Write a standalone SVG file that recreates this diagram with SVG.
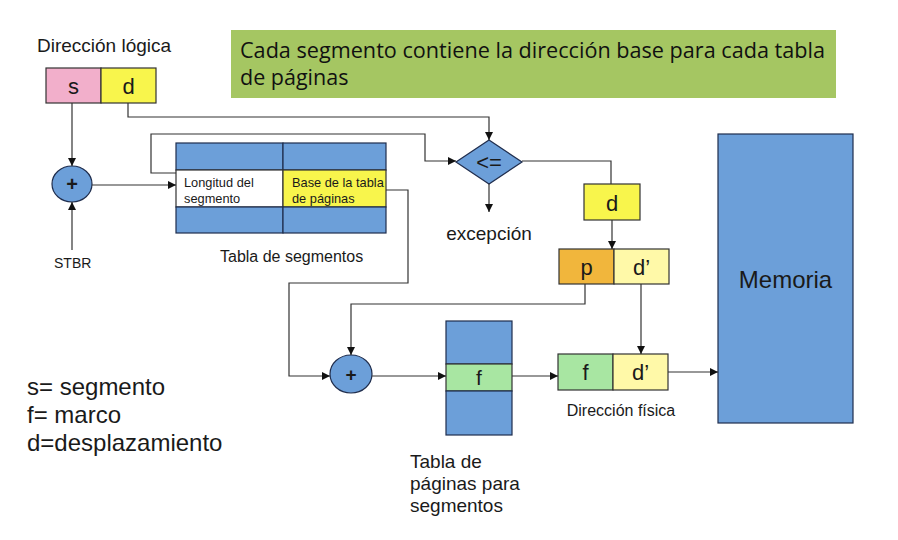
<svg xmlns="http://www.w3.org/2000/svg" width="898" height="540" viewBox="0 0 898 540">
<defs>
<marker id="arr" viewBox="0 0 10 10" refX="10" refY="5" markerWidth="8" markerHeight="8" markerUnits="userSpaceOnUse" orient="auto">
<path d="M0,0 L10,5 L0,10 z" fill="#111"/>
</marker>
<style>
.t{font-family:"Liberation Sans",Arial,sans-serif;fill:#1a1a1a}
.box{stroke:#333;stroke-width:1.2}
.blue{fill:#6C9FD9;stroke:#1F2D4D;stroke-width:1.2}
.ln{fill:none;stroke:#333;stroke-width:1.2}
.la{fill:none;stroke:#333;stroke-width:1.2;marker-end:url(#arr)}
.bn{font-family:"Open Sans","Noto Sans",sans-serif;font-size:21.5px;fill:#111}
</style>
</defs>
<rect width="898" height="540" fill="#ffffff"/>

<g id="banner">
<rect x="231" y="30" width="605" height="68" fill="#A5C662"/>
<text class="bn" x="240" y="58" textLength="585" lengthAdjust="spacingAndGlyphs">Cada segmento contiene la dirección base para cada tabla</text>
<text class="bn" x="240" y="85">de páginas</text>
</g>

<g id="logical-address">
<text class="t" x="37" y="52" font-size="19">Dirección lógica</text>
<rect class="box" x="46" y="68" width="55" height="35" fill="#F2AFCB"/>
<rect class="box" x="101" y="68" width="55" height="35" fill="#F8F54C"/>
<text class="t" x="73.5" y="94" font-size="22" text-anchor="middle">s</text>
<text class="t" x="128.5" y="94" font-size="22" text-anchor="middle">d</text>
</g>

<g id="adder1">
<ellipse cx="72" cy="184" rx="20" ry="18" class="blue"/>
<text class="t" x="72" y="191" font-size="20" text-anchor="middle" font-weight="bold">+</text>
</g>
<g id="stbr"><text class="t" x="54" y="268" font-size="14">STBR</text></g>

<g id="segment-table">
<rect class="blue" x="176" y="143" width="107" height="27"/>
<rect class="blue" x="283" y="143" width="103" height="27"/>
<rect class="box" x="176" y="170" width="107" height="37" fill="#ffffff"/>
<rect class="box" x="283" y="170" width="103" height="37" fill="#F8F54C"/>
<rect class="blue" x="176" y="207" width="107" height="26"/>
<rect class="blue" x="283" y="207" width="103" height="26"/>
<text class="t" x="184" y="187" font-size="12.8">Longitud del</text>
<text class="t" x="184" y="203" font-size="12.8">segmento</text>
<text class="t" x="292" y="187" font-size="12.8">Base de la tabla</text>
<text class="t" x="292" y="203" font-size="12.8">de páginas</text>
<text class="t" x="220" y="262" font-size="16">Tabla de segmentos</text>
</g>

<g id="compare">
<polygon class="blue" points="489,140 522,162 489,184 456,162"/>
<text class="t" x="489" y="170" font-size="22" text-anchor="middle">&lt;=</text>
<text class="t" x="489" y="240" font-size="19" text-anchor="middle">excepción</text>
</g>

<g id="offset-d">
<rect class="box" x="584" y="184" width="56" height="36" fill="#F8F54C"/>
<text class="t" x="612" y="211" font-size="22" text-anchor="middle">d</text>
</g>

<g id="pd">
<rect class="box" x="559" y="249" width="55" height="35" fill="#F1B63C"/>
<rect class="box" x="614" y="249" width="55" height="35" fill="#FFF9A8"/>
<text class="t" x="586.5" y="275" font-size="22" text-anchor="middle">p</text>
<text class="t" x="641.5" y="275" font-size="22" text-anchor="middle">d’</text>
</g>

<g id="adder2">
<ellipse cx="351" cy="374" rx="21" ry="19" class="blue"/>
<text class="t" x="351" y="381" font-size="19" text-anchor="middle" font-weight="bold">+</text>
</g>

<g id="page-table">
<rect class="blue" x="446" y="321" width="66" height="43"/>
<rect class="box" x="446" y="364" width="66" height="27" fill="#A8E6A2"/>
<rect class="blue" x="446" y="391" width="66" height="44"/>
<text class="t" x="479" y="385" font-size="21" text-anchor="middle">f</text>
<text class="t" x="410" y="468" font-size="19">Tabla de</text>
<text class="t" x="410" y="490" font-size="19">páginas para</text>
<text class="t" x="410" y="512" font-size="19">segmentos</text>
</g>

<g id="physical-address">
<rect class="box" x="558" y="354" width="55" height="36" fill="#A8E6A2"/>
<rect class="box" x="613" y="354" width="55" height="36" fill="#FFF9A8"/>
<text class="t" x="585.5" y="380" font-size="22" text-anchor="middle">f</text>
<text class="t" x="640.5" y="380" font-size="22" text-anchor="middle">d’</text>
<text class="t" x="621" y="416" font-size="16" text-anchor="middle">Dirección física</text>
</g>

<g id="memory">
<rect class="blue" x="718" y="134" width="135" height="289"/>
<text class="t" x="785.5" y="288" font-size="24" text-anchor="middle">Memoria</text>
</g>

<g id="legend">
<text class="t" x="27" y="395" font-size="24">s= segmento</text>
<text class="t" x="27" y="423" font-size="24">f= marco</text>
<text class="t" x="27" y="451" font-size="24">d=desplazamiento</text>
</g>

<g id="connectors">
<path class="la" d="M72,103 V166"/>
<path class="la" d="M72,250 V202"/>
<path class="la" d="M92,185 H176"/>
<path class="la" d="M128,103 V117 H489 V140"/>
<path class="la" d="M176,173 H151 V134 H425 V161 H456"/>
<path class="ln" d="M522,161 H611 V184"/>
<path class="la" d="M489,184 V212"/>
<path class="la" d="M612,220 V249"/>
<path class="la" d="M386,190 H408 V283 H289 V376 H330"/>
<path class="la" d="M585,284 V304 H351 V355"/>
<path class="la" d="M641,284 V354"/>
<path class="la" d="M372,376 H446"/>
<path class="la" d="M512,376 H558"/>
<path class="la" d="M668,372 H718"/>
</g>
</svg>
